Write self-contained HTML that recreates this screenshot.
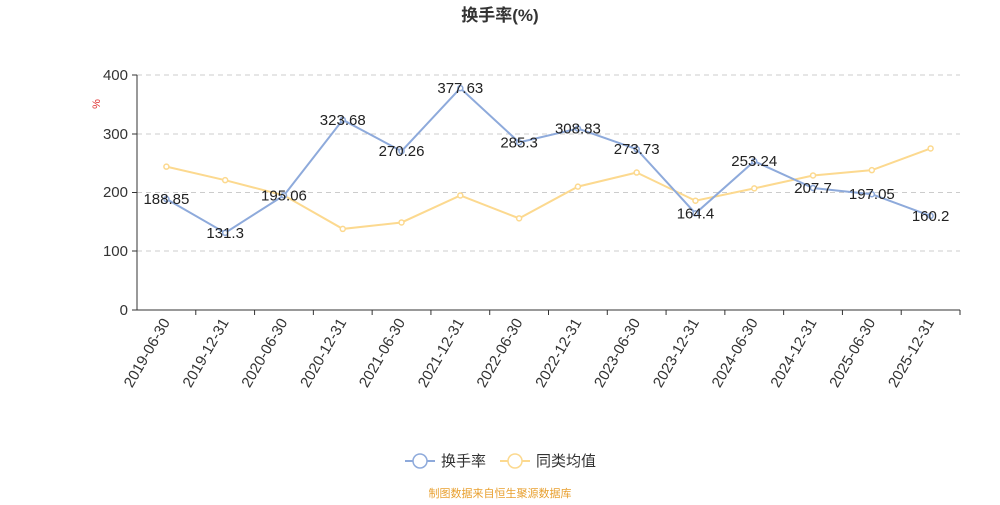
<!DOCTYPE html>
<html><head><meta charset="utf-8"><style>
body{margin:0;background:#fff;}
svg text{font-family:"Liberation Sans","Noto Sans CJK SC",sans-serif;}
</style></head><body>
<svg width="1000" height="500" xmlns="http://www.w3.org/2000/svg">
<text x="500" y="21" text-anchor="middle" font-size="17" font-weight="bold" fill="#333">换手率(%)</text>
<text x="100" y="104" font-size="11" fill="#e03030" transform="rotate(-90 100 104)" text-anchor="middle">%</text>
<g stroke="#ccc" stroke-dasharray="5,4" stroke-width="1">
<line x1="137" y1="75" x2="960" y2="75"/><line x1="137" y1="134" x2="960" y2="134"/>
<line x1="137" y1="192.5" x2="960" y2="192.5"/><line x1="137" y1="251" x2="960" y2="251"/>
</g>
<line x1="137" y1="75" x2="137" y2="310" stroke="#333"/>
<line x1="137" y1="310" x2="960" y2="310" stroke="#333"/>
<g stroke="#333">
<line x1="132" y1="75" x2="137" y2="75"/><line x1="132" y1="134" x2="137" y2="134"/><line x1="132" y1="192.5" x2="137" y2="192.5"/><line x1="132" y1="251" x2="137" y2="251"/><line x1="132" y1="310" x2="137" y2="310"/>
</g>
<g font-size="15" fill="#333" text-anchor="end">
<text x="128" y="80">400</text><text x="128" y="139">300</text><text x="128" y="197">200</text><text x="128" y="256">100</text><text x="128" y="315">0</text>
</g>
<g id="ticks" stroke="#333"></g>
<g id="xl" font-size="15" fill="#333"></g>
<polyline id="yl" fill="none" stroke="#fcd98f" stroke-width="2"/>
<polyline id="bl" fill="none" stroke="#8eaadb" stroke-width="2"/>
<g id="ydots"></g><g id="bdots"></g>
<g id="lab" font-size="15" fill="#222" text-anchor="middle"></g>
<g>
<line x1="405" y1="461" x2="435" y2="461" stroke="#8eaadb" stroke-width="2"/>
<circle cx="420" cy="461" r="7" fill="#fff" stroke="#8eaadb" stroke-width="1.5"/>
<text x="441" y="466" font-size="15" fill="#333">换手率</text>
<line x1="500" y1="461" x2="530" y2="461" stroke="#fcd98f" stroke-width="2"/>
<circle cx="515" cy="461" r="7" fill="#fff" stroke="#fcd98f" stroke-width="1.5"/>
<text x="536" y="466" font-size="15" fill="#333">同类均值</text>
</g>
<text x="500" y="497" text-anchor="middle" font-size="11" fill="#e8a030">制图数据来自恒生聚源数据库</text>
</svg>
<script>
var d=["2019-06-30","2019-12-31","2020-06-30","2020-12-31","2021-06-30","2021-12-31","2022-06-30","2022-12-31","2023-06-30","2023-12-31","2024-06-30","2024-12-31","2025-06-30","2025-12-31"];
var b=[188.85,131.3,195.06,323.68,270.26,377.63,285.3,308.83,273.73,164.4,253.24,207.7,197.05,160.2];
var y=[244,221,195,138,149,195,156,210,234,186,207,229,238,275];
var ns="http://www.w3.org/2000/svg",w=823/14;
function X(i){return 137+w*(i+.5)}function Y(v){return 310-v*0.5875}
function el(t,a,p){var e=document.createElementNS(ns,t);for(var k in a)e.setAttribute(k,a[k]);document.getElementById(p).appendChild(e);return e}
var pb=[],py=[];
for(var i=0;i<14;i++){
pb.push(X(i)+","+Y(b[i]));py.push(X(i)+","+Y(y[i]));
el("line",{x1:137+w*(i+1),y1:310,x2:137+w*(i+1),y2:315},"ticks");
var t=el("text",{x:X(i)+4,y:322,"text-anchor":"end",transform:"rotate(-60 "+(X(i)+4)+" 322)"},"xl");t.textContent=d[i];
el("circle",{cx:X(i),cy:Y(y[i]),r:2.5,fill:"#fff",stroke:"#fcd98f","stroke-width":1.5},"ydots");
el("circle",{cx:X(i),cy:Y(b[i]),r:2.5,fill:"#fff",stroke:"#8eaadb","stroke-width":1.5},"bdots");
var l=el("text",{x:X(i),y:Y(b[i])+5},"lab");l.textContent=b[i];
}
document.getElementById("bl").setAttribute("points",pb.join(" "));
document.getElementById("yl").setAttribute("points",py.join(" "));
</script>
</body></html>
